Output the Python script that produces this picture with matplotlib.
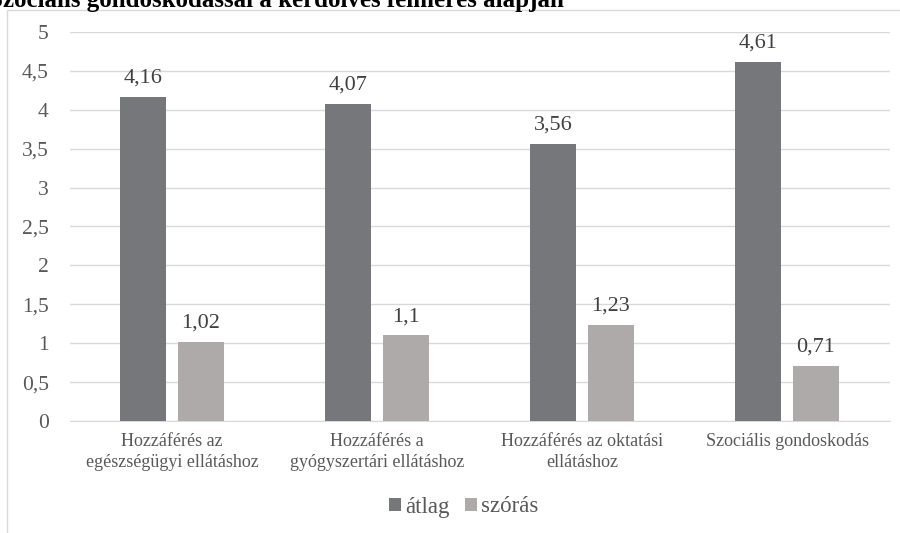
import numpy as np
import matplotlib
matplotlib.use("Agg")
import matplotlib.pyplot as plt
from matplotlib.patches import Rectangle

plt.rcParams['font.family'] = ['Liberation Serif', 'DejaVu Serif']

# Data
categories = ["Hozzáférés az\negészségügyi ellátáshoz",
              "Hozzáférés a\ngyógyszertári ellátáshoz",
              "Hozzáférés az oktatási\nellátáshoz",
              "Szociális gondoskodás"]
atlag = [4.16, 4.07, 3.56, 4.61]
szoras = [1.02, 1.1, 1.23, 0.71]
atlag_labels = ["4,16", "4,07", "3,56", "4,61"]
szoras_labels = ["1,02", "1,1", "1,23", "0,71"]
yticks = [0, 0.5, 1, 1.5, 2, 2.5, 3, 3.5, 4, 4.5, 5]
ytick_labels = ["0", "0,5", "1", "1,5", "2", "2,5", "3", "3,5", "4", "4,5", "5"]

c_dark = "#76777b"
c_light = "#aeaaaa"
c_text = "#595959"

fig = plt.figure(figsize=(9, 5.33), dpi=100)
ax = fig.add_axes([69.5 / 900, 1 - 421 / 533, 820 / 900, 389 / 533])

# chart frame and cut-off title
fig.patches.append(Rectangle((7 / 900, -0.1), 1.0, 1 - 10 / 533 + 0.1,
                             transform=fig.transFigure, fill=False,
                             edgecolor="#d9d9d9", linewidth=1.0))
fig.text(-11 / 900, 1 - 7 / 533, "Szociális gondoskodással a kérdőíves felmérés alapján",
         fontsize=18, fontweight="bold", color="black", ha="left", va="baseline")

x = np.arange(len(categories))
w = 0.224
off = 0.141
b1 = ax.bar(x - off, atlag, w, color=c_dark, label="átlag", zorder=3)
b2 = ax.bar(x + off, szoras, w, color=c_light, label="szórás", zorder=3)

for rect, lab in zip(b1, atlag_labels):
    ax.text(rect.get_x() + rect.get_width() / 2, rect.get_height() + 0.12, lab,
            ha="center", va="bottom", fontsize=16, color="#404040")
for rect, lab in zip(b2, szoras_labels):
    ax.text(rect.get_x() + rect.get_width() / 2, rect.get_height() + 0.12, lab,
            ha="center", va="bottom", fontsize=16, color="#404040")

ax.set_xlim(-0.5, 3.5)
ax.set_ylim(0, 5)
ax.set_yticks(yticks)
ax.set_yticklabels(ytick_labels, fontsize=15.5, color=c_text)
ax.set_xticks(x)
ax.set_xticklabels(categories, fontsize=13, color=c_text, linespacing=1.3)
ax.tick_params(axis="both", length=0)
ax.tick_params(axis="y", pad=15)
ax.tick_params(axis="x", pad=9)
ax.grid(axis="y", color="#d9d9d9", linewidth=1.0, zorder=0)
for s in ["top", "right", "left"]:
    ax.spines[s].set_visible(False)
ax.spines["bottom"].set_color("#d9d9d9")

fig.legend(loc="center", bbox_to_anchor=(464 / 900, 1 - 507 / 533), ncol=2,
           frameon=False, fontsize=16.5, handlelength=0.52, handleheight=0.52,
           handletextpad=0.2, columnspacing=0.65, labelcolor=c_text)

fig.savefig("out.png", dpi=100)
